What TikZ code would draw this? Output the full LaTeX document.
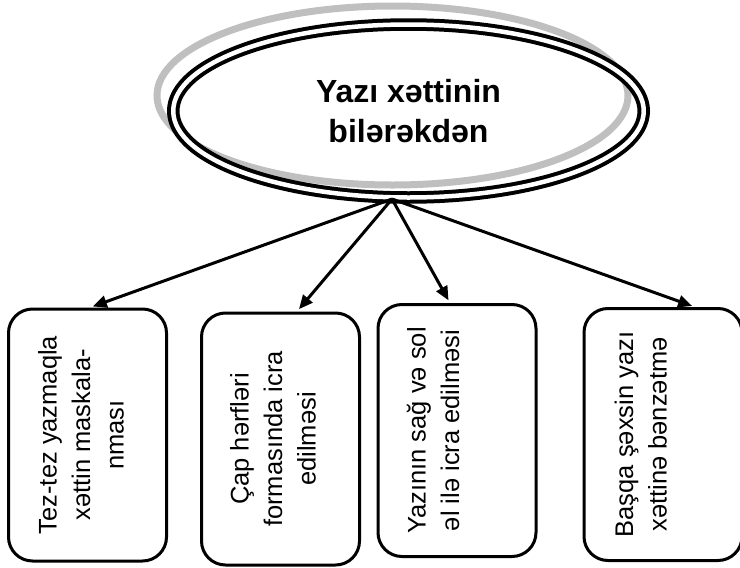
\documentclass[tikz,border=0pt]{standalone}
\usepackage{fontspec}
\setmainfont{Liberation Sans}
\usetikzlibrary{shapes.geometric, positioning}
\usetikzlibrary{arrows.meta}

\begin{document}
\begin{tikzpicture}[x=1pt, y=-1pt,
  topic/.style={ellipse, draw, line width=4pt, double, double distance=4.5pt,
    minimum width=470.5pt, minimum height=173pt, inner sep=0pt, align=center,
    font=\fontsize{32pt}{40pt}\selectfont\bfseries},
  card/.style={draw, line width=3pt, rounded corners=24pt,
    minimum width=158pt, minimum height=252pt, inner sep=0pt},
  cardtext/.style={rotate=90, anchor=north, align=center, inner sep=0pt,
    font=\fontsize{25.5pt}{33.5pt}\selectfont},
  link/.style={-{Triangle[length=14pt,width=12pt]}, line width=3pt, shorten >=3pt}]
\useasboundingbox (0,0) rectangle (740,568);
% shadow ring
\draw[black!25, line width=7pt] (392.5,95.5) ellipse [x radius=235.5pt, y radius=89.5pt];
\node[topic] (topic) at (408.5,111) {Yazı xəttinin\\bilərəkdən};
\coordinate (src) at (392,199);
% boxes
\node[card] (b1) at (87.5,435) {};
\node[card] (b2) at (280.5,439) {};
\node[card] (b3) at (457,430.5) {};
\node[card] (b4) at (663,434.5) {};
\node[cardtext] (t1) at ([xshift=31pt]b1.west) {Tez-tez yazmaqla\\xəttin maskala-\\nması};
\node[cardtext] (t2) at ([xshift=30pt]b2.west) {Çap hərfləri\\formasında icra\\edilməsi};
\node[cardtext] (t3) at ([xshift=30pt]b3.west) {Yazının sağ və sol\\əl ilə icra edilməsi};
\node[cardtext] (t4) at ([xshift=32pt]b4.west) {Başqa şəxsin yazı\\xəttinə bənzətmə};
% arrows
\draw[link] (src) -- ([xshift=2.5pt]b1.north);
\draw[link] (src) -- ([xshift=16.5pt]b2.north);
\draw[link] (src) -- ([xshift=-7pt]b3.north);
\draw[link] (src) -- ([xshift=32pt]b4.north);
\end{tikzpicture}
\end{document}
